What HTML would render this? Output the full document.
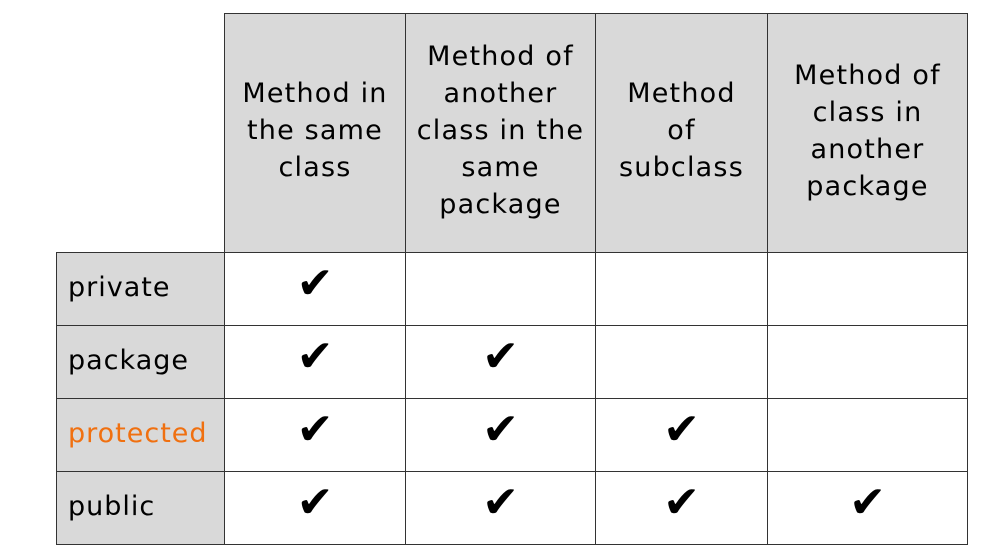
<!DOCTYPE html>
<html><head><style>
body{margin:0;width:996px;height:556px;background:#fff;position:relative;overflow:hidden;font-family:"DejaVu Sans","Liberation Sans",sans-serif;}
.c{position:absolute;box-sizing:border-box;border:1.5px solid #333;display:flex;align-items:center;justify-content:center;text-align:center;}
.h{background:#d9d9d9;font-size:27px;line-height:37px;letter-spacing:1.2px;color:#000;padding-bottom:5px;}
.l{background:#d9d9d9;font-size:27px;justify-content:flex-start;padding-left:11px;letter-spacing:1px;color:#000;padding-bottom:4px;}
.k{font-size:44px;color:#000;padding-bottom:12px;}
</style></head><body>
<div class="c h" style="left:224px;top:13px;width:182px;height:240px">Method in<br>the same<br>class</div>
<div class="c h" style="left:405px;top:13px;width:191px;height:240px">Method of<br>another<br>class in the<br>same<br>package</div>
<div class="c h" style="left:595px;top:13px;width:173px;height:240px">Method<br>of<br>subclass</div>
<div class="c h" style="left:767px;top:13px;width:201px;height:240px">Method of<br>class in<br>another<br>package</div>

<div class="c l" style="left:56px;top:252px;width:169px;height:74px">private</div>
<div class="c l" style="left:56px;top:325px;width:169px;height:74px">package</div>
<div class="c l" style="left:56px;top:398px;width:169px;height:74px;color:#f07010">protected</div>
<div class="c l" style="left:56px;top:471px;width:169px;height:74px">public</div>

<div class="c k" style="left:224px;top:252px;width:182px;height:74px">✔</div>
<div class="c k" style="left:405px;top:252px;width:191px;height:74px"></div>
<div class="c k" style="left:595px;top:252px;width:173px;height:74px"></div>
<div class="c k" style="left:767px;top:252px;width:201px;height:74px"></div>

<div class="c k" style="left:224px;top:325px;width:182px;height:74px">✔</div>
<div class="c k" style="left:405px;top:325px;width:191px;height:74px">✔</div>
<div class="c k" style="left:595px;top:325px;width:173px;height:74px"></div>
<div class="c k" style="left:767px;top:325px;width:201px;height:74px"></div>

<div class="c k" style="left:224px;top:398px;width:182px;height:74px">✔</div>
<div class="c k" style="left:405px;top:398px;width:191px;height:74px">✔</div>
<div class="c k" style="left:595px;top:398px;width:173px;height:74px">✔</div>
<div class="c k" style="left:767px;top:398px;width:201px;height:74px"></div>

<div class="c k" style="left:224px;top:471px;width:182px;height:74px">✔</div>
<div class="c k" style="left:405px;top:471px;width:191px;height:74px">✔</div>
<div class="c k" style="left:595px;top:471px;width:173px;height:74px">✔</div>
<div class="c k" style="left:767px;top:471px;width:201px;height:74px">✔</div>
</body></html>
